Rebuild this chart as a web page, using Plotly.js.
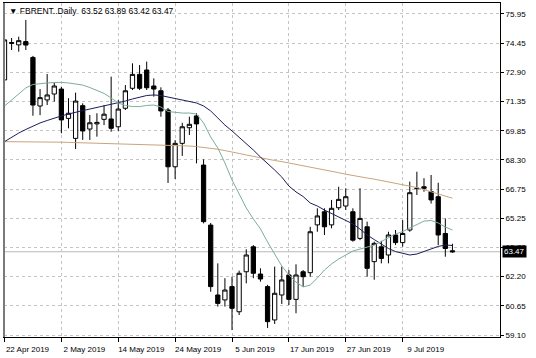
<!DOCTYPE html>
<html>
<head>
<meta charset="utf-8">
<script src="https://cdn.plot.ly/plotly-3.0.1.min.js"></script>
<style>
html,body{margin:0;padding:0;background:#fff;}
#chart{width:536px;height:358px;}
</style>
</head>
<body>
<div id="chart"></div>
<script>
// ---- data ----
var dates = [
"2019-04-22","2019-04-23","2019-04-24","2019-04-25","2019-04-26","2019-04-29","2019-04-30",
"2019-05-01","2019-05-02","2019-05-03","2019-05-06","2019-05-07","2019-05-08","2019-05-09","2019-05-10",
"2019-05-13","2019-05-14","2019-05-15","2019-05-16","2019-05-17","2019-05-20","2019-05-21","2019-05-22",
"2019-05-23","2019-05-24","2019-05-27","2019-05-28","2019-05-29","2019-05-30","2019-05-31",
"2019-06-03","2019-06-04","2019-06-05","2019-06-06","2019-06-07","2019-06-10","2019-06-11","2019-06-12",
"2019-06-13","2019-06-14","2019-06-17","2019-06-18","2019-06-19","2019-06-20","2019-06-21","2019-06-24",
"2019-06-25","2019-06-26","2019-06-27","2019-06-28",
"2019-07-01","2019-07-02","2019-07-03","2019-07-04","2019-07-05","2019-07-08","2019-07-09","2019-07-10",
"2019-07-11","2019-07-12","2019-07-15","2019-07-16","2019-07-17","2019-07-18"];

var open  = [72.49,74.40,74.33,74.50,73.67,71.12,71.44,71.75,72.01,70.47,69.42,71.14,69.91,70.18,70.42,
             70.44,70.03,71.00,72.05,72.78,73.01,72.17,71.92,70.91,67.93,69.16,69.98,70.60,68.02,64.87,
             61.20,60.94,61.64,60.32,62.42,63.73,62.30,61.64,59.89,61.20,62.25,60.97,62.42,62.37,64.88,
             65.57,64.88,65.78,65.87,65.57,64.17,64.78,62.95,63.73,63.30,64.35,63.95,64.61,66.78,66.88,
             66.63,66.36,64.43,63.52];
var high  = [74.70,74.69,74.76,75.64,73.75,72.01,72.80,72.36,72.13,71.53,71.82,71.26,70.65,70.74,71.17,
             72.66,71.43,72.22,73.36,73.27,73.45,72.57,72.10,71.02,69.33,70.24,70.56,70.74,68.32,64.98,
             62.86,62.08,62.16,62.48,63.60,63.82,62.60,61.73,62.69,62.69,62.51,62.81,62.51,64.78,65.75,
             65.75,66.19,66.88,66.80,65.75,66.80,65.05,64.00,64.04,64.52,64.61,65.13,67.15,67.67,67.33,
             67.50,67.09,65.22,63.89];
var low   = [71.96,74.06,73.97,74.06,70.61,70.64,71.17,71.35,69.69,69.95,68.86,69.34,69.34,69.51,70.12,
             69.77,69.81,70.91,71.96,71.96,71.96,71.61,70.56,67.08,67.29,68.50,69.60,68.11,64.96,61.37,
             60.59,60.59,59.36,60.15,61.81,62.08,61.90,59.47,59.68,60.73,60.67,60.24,61.64,62.16,64.52,
             64.35,64.70,65.66,65.66,64.00,64.08,62.16,62.00,62.86,62.86,63.82,63.73,64.52,66.45,66.62,
             66.00,63.82,63.21,63.42];
var close = [74.59,74.45,74.55,74.32,71.17,71.56,71.70,72.17,70.39,70.74,71.38,69.81,70.24,70.26,70.69,
             69.95,70.96,71.92,72.78,72.05,72.08,72.01,70.86,67.93,69.16,70.03,70.16,70.18,65.05,61.64,
             60.76,61.46,60.50,62.34,63.30,62.34,62.04,59.80,61.29,61.99,60.97,62.25,62.16,64.52,65.35,
             64.78,65.75,66.22,66.36,64.08,65.22,62.60,63.91,63.12,64.35,63.95,64.43,66.57,66.80,66.80,
             66.19,64.35,63.64,63.47];

var maFast = [71.12,71.44,71.75,72.07,72.25,72.30,72.33,72.35,72.36,72.33,72.28,72.22,72.09,71.93,71.78,
              71.54,71.28,71.15,71.09,71.09,71.15,71.17,71.07,70.83,70.78,70.75,70.75,70.70,70.23,69.49,
              68.92,68.13,67.24,66.50,65.77,65.19,64.67,63.98,63.35,62.72,62.25,61.88,61.62,61.72,62.09,
              62.51,62.83,63.09,63.30,63.51,63.61,63.72,63.82,64.01,64.19,64.40,64.53,64.72,64.93,65.08,
              65.11,64.98,64.77,64.61];
var maMid  = [69.25,69.49,69.70,69.89,70.07,70.23,70.36,70.49,70.60,70.70,70.81,70.88,70.96,71.04,71.12,
              71.20,71.28,71.38,71.49,71.59,71.67,71.70,71.67,71.59,71.51,71.44,71.36,71.28,71.12,70.86,
              70.49,70.12,69.81,69.49,69.13,68.81,68.44,68.11,67.76,67.39,66.92,66.61,66.37,66.03,65.87,
              65.66,65.48,65.29,65.14,64.93,64.66,64.35,64.11,63.88,63.64,63.48,63.38,63.30,63.35,63.48,
              63.64,63.75,63.82,63.80];
var maSlow = [69.25,69.25,69.25,69.25,69.24,69.24,69.23,69.23,69.22,69.21,69.20,69.19,69.18,69.18,69.17,
              69.16,69.15,69.14,69.13,69.12,69.11,69.10,69.09,69.08,69.06,69.04,69.02,68.99,68.95,68.90,
              68.85,68.78,68.72,68.63,68.55,68.47,68.40,68.33,68.26,68.20,68.13,68.06,68.00,67.93,67.86,
              67.78,67.70,67.62,67.54,67.46,67.40,67.34,67.28,67.21,67.14,67.07,67.00,66.92,66.84,66.73,
              66.61,66.50,66.39,66.28];

var xTickDates  = ["2019-04-22","2019-05-02","2019-05-14","2019-05-24","2019-06-05","2019-06-17","2019-06-27","2019-07-09"];
var xTickLabels = ["22 Apr 2019","2 May 2019","14 May 2019","24 May 2019","5 Jun 2019","17 Jun 2019","27 Jun 2019","9 Jul 2019"];
var yTickVals   = [59.10,60.632,62.164,63.695,65.227,66.759,68.291,69.823,71.355,72.886,74.418,75.95];
var yTickLabels = ["59.10","60.65","62.20","63.70","65.25","66.75","68.30","69.85","71.35","72.90","74.45","75.95"];
var symbolTitle = "FBRENT..Daily";
var lastBar = [63.52,63.89,63.42,63.47];
var lastPrice = 63.47;

// ---- traces ----
var font = "Liberation Sans, Arial, DejaVu Sans, sans-serif";
var traces = [
  {type:"scatter", mode:"lines", x:dates, y:maSlow, line:{color:"#caa47e", width:1}, hoverinfo:"skip"},
  {type:"scatter", mode:"lines", x:dates, y:maMid, line:{color:"#1c1c5e", width:1}, hoverinfo:"skip"},
  {type:"scatter", mode:"lines", x:dates, y:maFast, line:{color:"#7cae96", width:1}, hoverinfo:"skip"},
  {type:"candlestick", x:dates, open:open, high:high, low:low, close:close,
   increasing:{line:{color:"#000000", width:1}, fillcolor:"#ffffff"},
   decreasing:{line:{color:"#000000", width:1}, fillcolor:"#000000"},
   whiskerwidth:0, hoverinfo:"skip"}
];

var layout = {
  width:536, height:358,
  margin:{l:4, r:36, t:3, b:21},
  paper_bgcolor:"#ffffff", plot_bgcolor:"#ffffff",
  showlegend:false,
  boxgap:0.2, boxgroupgap:0.25,
  font:{family:font, size:8, color:"#000"},
  xaxis:{
    type:"category",
    range:[-0.07, 69.69],
    rangeslider:{visible:false},
    tickmode:"array", tickvals:xTickDates, ticktext:xTickLabels,
    ticks:"outside", ticklen:4, tickcolor:"#000",
    ticklabelshift:23,
    tickfont:{family:font, size:8, color:"#000"},
    showgrid:true, gridcolor:"#c4c4c4", griddash:"3px,3px", gridwidth:1,
    showline:true, linecolor:"#000", linewidth:1, mirror:true,
    zeroline:false, fixedrange:true
  },
  yaxis:{
    side:"right",
    range:[58.995, 76.527],
    tickmode:"array", tickvals:yTickVals, ticktext:yTickLabels,
    ticks:"outside", ticklen:3, tickcolor:"#000",
    tickfont:{family:font, size:8, color:"#000"},
    showgrid:true, gridcolor:"#c4c4c4", griddash:"3px,3px", gridwidth:1,
    showline:true, linecolor:"#000", linewidth:1, mirror:true,
    zeroline:false, fixedrange:true
  },
  shapes:[
    {type:"line", xref:"paper", yref:"y", x0:0, x1:1, y0:lastPrice, y1:lastPrice,
     line:{color:"#b8b8b8", width:1}, layer:"below"},
    {type:"line", xref:"paper", yref:"paper", x0:0, x1:0, y0:0, y1:1,
     line:{color:"#7a7a7a", width:2}}
  ],
  annotations:[
    {xref:"paper", yref:"paper", x:0, y:0.976, xanchor:"left", yanchor:"middle", xshift:3,
     showarrow:false, align:"left",
     text:"\u25BC " + symbolTitle + "  " + lastBar.map(function(v){return v.toFixed(2);}).join(" "),
     font:{family:font, size:8.5, color:"#000"}},
    {xref:"paper", yref:"y", x:1, y:lastPrice, xanchor:"left", yanchor:"middle", xshift:2,
     showarrow:false, text:lastPrice.toFixed(2), bgcolor:"#000000", borderpad:1,
     font:{family:font, size:8, color:"#ffffff"}}
  ]
};

Plotly.newPlot("chart", traces, layout, {staticPlot:true, displayModeBar:false});
</script>
</body>
</html>
